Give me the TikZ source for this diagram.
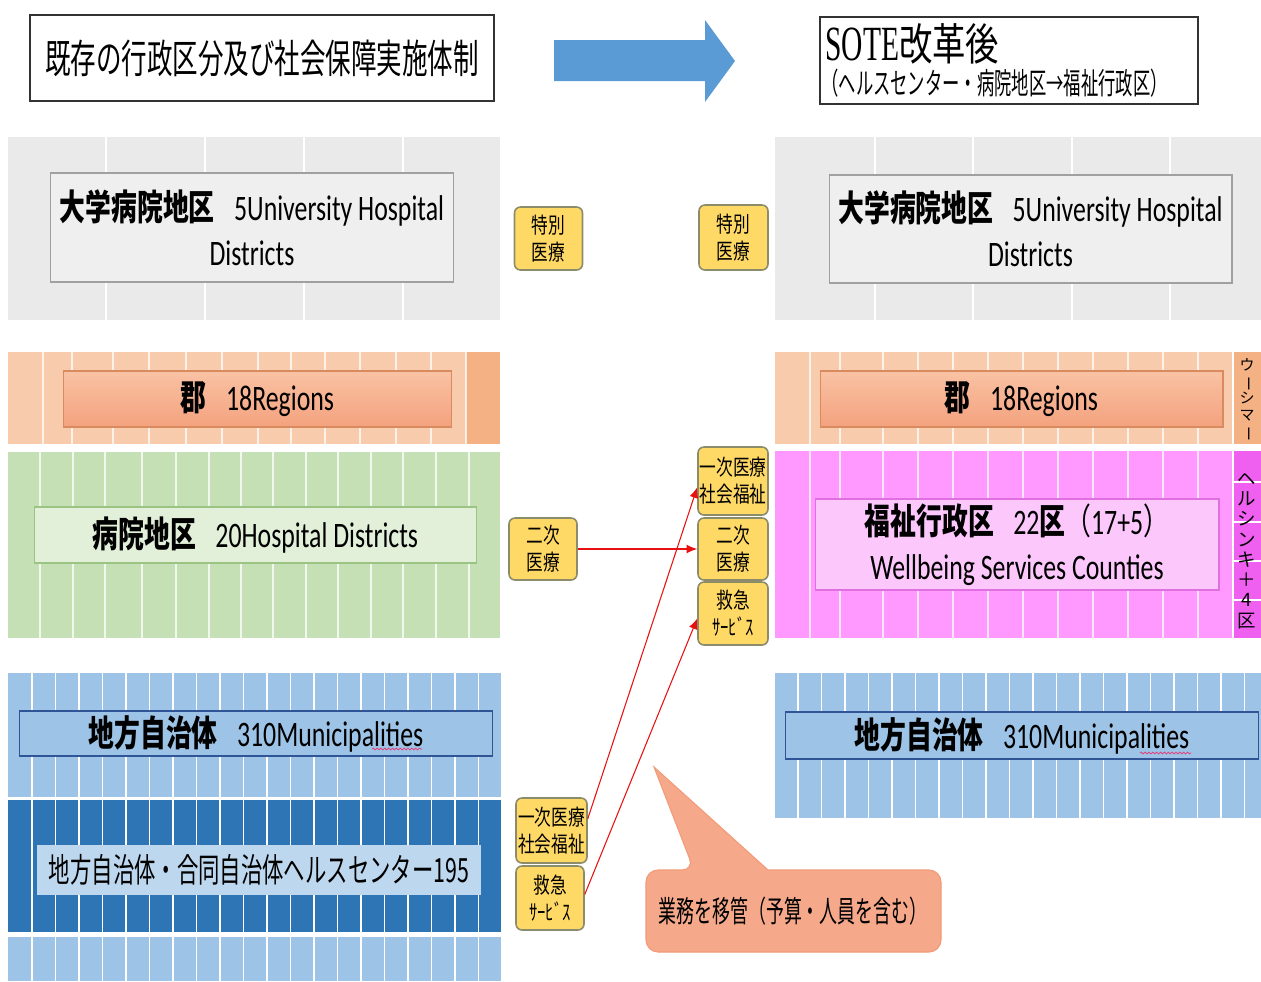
\documentclass[tikz,border=0pt]{standalone}
\usepackage{fontspec}
\usepackage{graphicx}
\usetikzlibrary{arrows.meta,decorations.pathmorphing}
\newfontfamily\jp{Noto Sans CJK JP}
\newfontfamily\calib{Carlito}
\newfontfamily\ser{Liberation Serif}
\newcommand{\hsq}[2]{\scalebox{#1}[1]{#2}}
\newcommand{\lbl}[2]{\hsq{0.72}{{\jp\bfseries #1}\hspace{0.75em}{\calib #2}}}
\newcommand{\yt}[1]{\hsq{0.76}{#1}}
\definecolor{grayP}{HTML}{EAEAEA}
\definecolor{grayI}{HTML}{EFEFEF}
\definecolor{grayB}{HTML}{A0A0A0}
\definecolor{oranP}{HTML}{F8CBAD}
\definecolor{oranC}{HTML}{F4B183}
\definecolor{oranT}{HTML}{F9C2A4}
\definecolor{oranBt}{HTML}{F4A27E}
\definecolor{oranB}{HTML}{D98B5F}
\definecolor{grnP}{HTML}{C5E0B4}
\definecolor{grnI}{HTML}{E2F0D9}
\definecolor{grnB}{HTML}{9BC483}
\definecolor{magP}{HTML}{FF99FF}
\definecolor{magC}{HTML}{F060F0}
\definecolor{magI}{HTML}{FCC8FC}
\definecolor{magB}{HTML}{E070E0}
\definecolor{bluL}{HTML}{9DC3E6}
\definecolor{bluB}{HTML}{2F5597}
\definecolor{bluD}{HTML}{2E75B6}
\definecolor{bluI}{HTML}{BDD7EE}
\definecolor{arrB}{HTML}{5B9BD5}
\definecolor{yfill}{HTML}{FFD966}
\definecolor{ybord}{HTML}{8C8C6A}
\definecolor{callF}{HTML}{F6A98A}
\definecolor{callB}{HTML}{F29A78}
\definecolor{redA}{HTML}{E81010}
\definecolor{wavyC}{HTML}{E0407A}
\begin{document}
\begin{tikzpicture}[x=0.02cm,y=-0.02cm,
  wline/.style={white,line width=1pt},
  tline/.style={white,opacity=0.75,line width=1pt},
  ttlbox/.style={draw=black!80,line width=0.8pt,fill=white,inner sep=0pt},
  mainlbl/.style={inner sep=0pt,align=center,font=\fontsize{20.4pt}{25.5pt}\selectfont},
  ybox/.style={draw=ybord,fill=yfill,rounded corners=0.12cm,line width=0.9pt,inner sep=0pt,align=center,font=\jp\fontsize{12.5pt}{15.5pt}\selectfont},
  redarrow/.style={draw=redA,line width=0.6pt,-{Latex[length=6pt,width=5pt]}},
  vtext/.style={inner sep=0pt,align=center}
]
\useasboundingbox (0,0) rectangle (1261,981);
\fill[white] (0,0) rectangle (1261,981);

% ---------- titles ----------
\node[ttlbox,minimum width=9.28cm,minimum height=1.72cm,font=\jp\fontsize{22.7pt}{26pt}\selectfont] (t1) at (262,58) {\hsq{0.64}{既存の行政区分及び社会保障実施体制}};
\fill[arrB] (554,40) -- (705,40) -- (705,20) -- (735,61) -- (705,102) -- (705,81) -- (554,81) -- cycle;
\node[ttlbox,minimum width=7.56cm,minimum height=1.74cm] (t2) at (1009,60.5) {};
\node[anchor=base west,inner sep=0pt] (t2a) at (825,60) {\hsq{0.6}{\ser\fontsize{28pt}{30pt}\selectfont SOTE}\hsq{0.76}{\jp\fontsize{25pt}{28pt}\selectfont 改革後}};
\node[anchor=base west,inner sep=0pt] (t2b) at (821,94) {\hsq{0.58}{\jp\fontsize{17pt}{20pt}\selectfont （ヘルスセンター・病院地区→福祉行政区）}};

% ---------- left column panels ----------
\fill[grayP] (8,137) rectangle (500,320);
\foreach \x in {106,205,304,403} \draw[wline] (\x,137) -- (\x,320);
\fill[oranP] (8,352) rectangle (500,444);
\fill[oranC] (466,352) rectangle (500,444);
\foreach \x in {43,72,113,149,186,222,258,291,325,360,396,431,466} \draw[tline] (\x,352) -- (\x,444);
\fill[grnP] (8,452) rectangle (500,638);
\foreach \x in {40,73,105,142,176,209,241,273,306,338,371,403,436,469} \draw[tline] (\x,452) -- (\x,638);
\fill[bluL] (8,673) rectangle (501,797);
\fill[bluD] (8,800) rectangle (501,932);
\fill[bluL] (8,937) rectangle (501,981);
\foreach \i in {0,...,19} {
  \draw[wline] ({32+23.5*\i},673) -- ({32+23.5*\i},797);
  \draw[wline] ({32+23.5*\i},800) -- ({32+23.5*\i},932);
  \draw[wline] ({32+23.5*\i},937) -- ({32+23.5*\i},981);
}

% ---------- right column panels ----------
\fill[grayP] (775,137) rectangle (1261,320);
\foreach \x in {875,973,1072,1170} \draw[wline] (\x,137) -- (\x,320);
\fill[oranP] (775,352) rectangle (1233,444);
\fill[oranC] (1233,352) rectangle (1261,444);
\foreach \x in {810,840,883,918,953,988,1023,1058,1093,1128,1163,1198} \draw[tline] (\x,352) -- (\x,444);
\fill[magP] (775,451) rectangle (1233,638);
\fill[magC] (1233,451) rectangle (1261,638);
\foreach \x in {810,840,883,918,953,988,1023,1058,1093,1128,1163,1198} \draw[tline] (\x,451) -- (\x,638);
\draw[wline] (1233,352) -- (1233,638);
\foreach \y in {482,522,561,600} \draw[wline] (1233,\y) -- (1261,\y);
\fill[bluL] (775,673) rectangle (1261,818);
\foreach \i in {0,...,19} \draw[wline] ({798+23.5*\i},673) -- ({798+23.5*\i},818);

% ---------- inner label boxes ----------
\node[mainlbl,draw=grayB,fill=grayI,line width=0.6pt,minimum width=8.08cm,minimum height=2.18cm] (uL) at (252,227.5) {\lbl{大学病院地区}{5University Hospital}\\\hsq{0.72}{\calib Districts}};
\node[mainlbl,draw=grayB,fill=grayI,line width=0.6pt,minimum width=8.06cm,minimum height=2.16cm] (uR) at (1030.5,229) {\lbl{大学病院地区}{5University Hospital}\\\hsq{0.72}{\calib Districts}};
\node[mainlbl,draw=oranB,top color=oranT,bottom color=oranBt,line width=0.6pt,minimum width=7.78cm,minimum height=1.12cm] (gL) at (257.5,399) {\lbl{郡}{18Regions}};
\node[mainlbl,draw=oranB,top color=oranT,bottom color=oranBt,line width=0.6pt,minimum width=8.06cm,minimum height=1.12cm] (gR) at (1021.5,399) {\lbl{郡}{18Regions}};
\node[mainlbl,draw=grnB,fill=grnI,line width=0.6pt,minimum width=8.86cm,minimum height=1.12cm] (hL) at (255.5,535) {\lbl{病院地区}{20Hospital Districts}};
\node[mainlbl,draw=magB,fill=magI,line width=0.6pt,minimum width=8.08cm,minimum height=1.82cm] (wR) at (1017,544.5) {\hsq{0.72}{{\jp\bfseries 福祉行政区}\hspace{0.75em}{\calib 22}{\jp\bfseries 区}{\jp （}{\calib 17+5}{\jp ）}}\\\hsq{0.72}{\calib Wellbeing Services Counties}};
\node[mainlbl,draw=bluB,fill=bluL,line width=0.6pt,minimum width=9.48cm,minimum height=0.9cm] (mL) at (256,733.5) {\lbl{地方自治体}{310Municipalities}};
\node[mainlbl,draw=bluB,fill=bluL,line width=0.6pt,minimum width=9.48cm,minimum height=0.94cm] (mR) at (1022,735.5) {\lbl{地方自治体}{310Municipalities}};
\node[inner sep=0pt,fill=bluI,minimum width=8.88cm,minimum height=1.0cm,font=\jp\fontsize{19pt}{22pt}\selectfont] (hcL) at (259,870) {\hsq{0.64}{地方自治体・合同自治体ヘルスセンター195}};
\draw[decorate,decoration={snake,amplitude=0.5pt,segment length=2.2pt},draw=wavyC,line width=0.45pt] (372,749) -- (422,749);
\draw[decorate,decoration={snake,amplitude=0.5pt,segment length=2.2pt},draw=wavyC,line width=0.45pt] (1140,753) -- (1191,753);

% ---------- vertical texts ----------
\node[vtext,font=\jp\fontsize{8.5pt}{9.6pt}\selectfont] (usm) at (1247,400) {ウ\\\rotatebox[origin=c]{-90}{ー}\\シ\\マ\\\rotatebox[origin=c]{-90}{ー}};
\node[vtext,font=\jp\fontsize{10.5pt}{11.5pt}\selectfont] (hki) at (1247,551) {ヘ\\ル\\シ\\ン\\キ\\＋\\4\\区};

% ---------- yellow service boxes ----------
\node[ybox,minimum width=1.36cm,minimum height=1.26cm] (tbL) at (548.5,238.5) {\yt{特別}\\\yt{医療}};
\node[ybox,minimum width=1.38cm,minimum height=1.30cm] (tbR) at (733.5,237.5) {\yt{特別}\\\yt{医療}};
\node[ybox,minimum width=1.36cm,minimum height=1.24cm] (n2L) at (543,549) {\yt{二次}\\\yt{医療}};
\node[ybox,minimum width=1.40cm,minimum height=1.36cm] (p1R) at (733,481) {\yt{一次医療}\\\yt{社会福祉}};
\node[ybox,minimum width=1.40cm,minimum height=1.24cm] (n2R) at (733,549) {\yt{二次}\\\yt{医療}};
\node[ybox,minimum width=1.40cm,minimum height=1.26cm] (e1R) at (733,613.5) {\yt{救急}\\\yt{ｻｰﾋﾞｽ}};
\node[ybox,minimum width=1.42cm,minimum height=1.30cm] (p1L) at (551.5,830.5) {\yt{一次医療}\\\yt{社会福祉}};
\node[ybox,minimum width=1.36cm,minimum height=1.28cm] (e1L) at (550,898) {\yt{救急}\\\yt{ｻｰﾋﾞｽ}};

\draw[redarrow] (n2L.east) -- (n2R.west);
\draw[redarrow] (p1L.18) -- (p1R.190);
\draw[redarrow] (e1L.6) -- (e1R.188);

% ---------- callout ----------
\filldraw[fill=callF,draw=callB,line width=0.6pt] (694,870) -- (654,767) -- (768,870) [rounded corners=0.24cm] -- (941,870) -- (941,952) -- (646,952) -- (646,870) -- cycle;
\node[inner sep=0pt,font=\jp\fontsize{17pt}{20pt}\selectfont] (calltext) at (793,911) {\hsq{0.6}{業務を移管（予算・人員を含む）}};
\end{tikzpicture}
\end{document}
